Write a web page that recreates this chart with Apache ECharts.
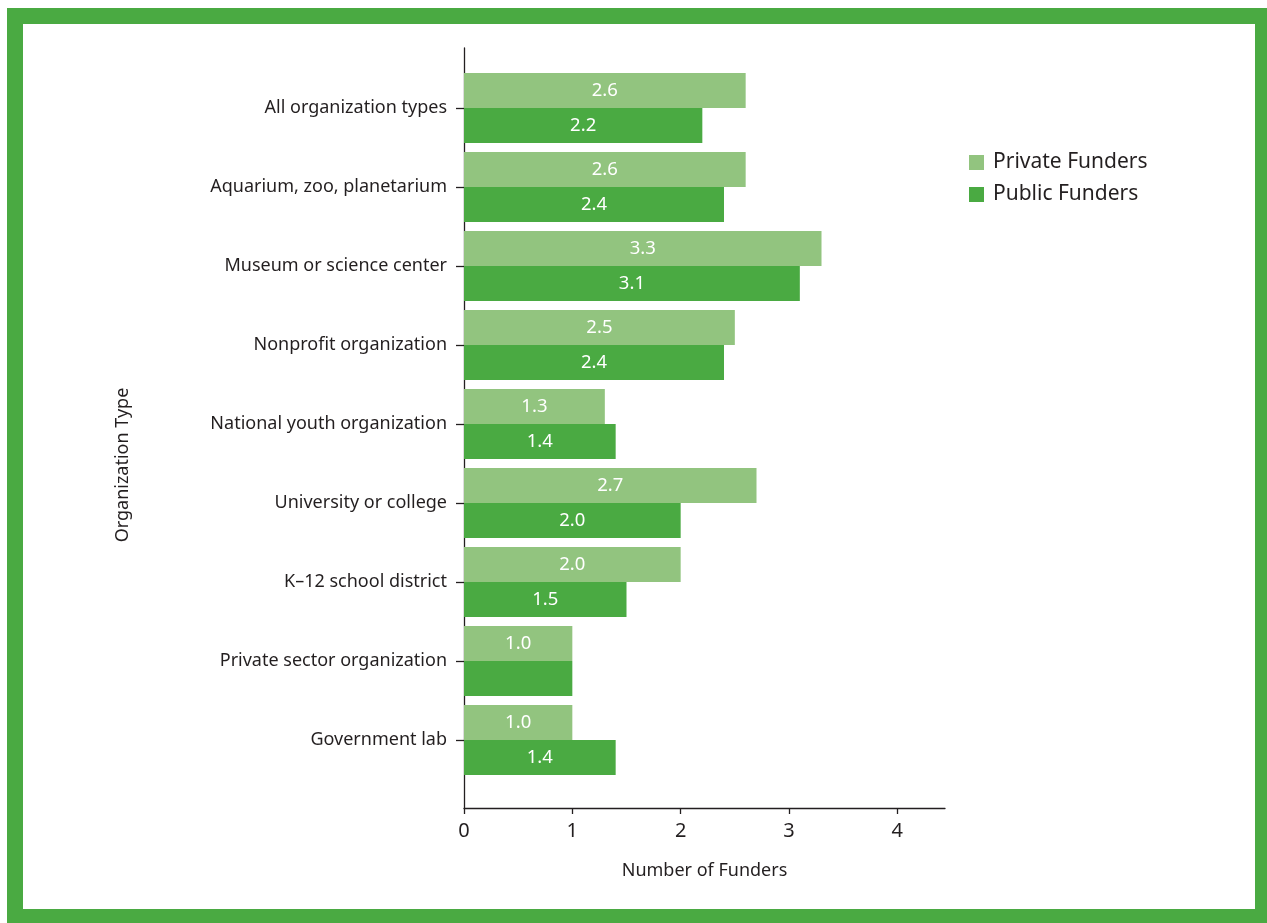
<!DOCTYPE html>
<html>
<head>
<meta charset="utf-8">
<script src="https://cdn.jsdelivr.net/npm/echarts@6/dist/echarts.min.js"></script>
<style>
  html, body { margin: 0; padding: 0; background: #ffffff; }
  #frame { position: absolute; left: 7px; top: 8px; width: 1260px; height: 915px; background: #4aaa42; }
  #inner { position: absolute; left: 23px; top: 24px; width: 1232px; height: 885px; background: #ffffff; }
  #chart { position: absolute; left: 0; top: 0; width: 1267px; height: 923px; }
</style>
</head>
<body>
<div id="frame"></div>
<div id="inner"></div>
<div id="chart"></div>
<script>
const categories = [
  'All organization types',
  'Aquarium, zoo, planetarium',
  'Museum or science center',
  'Nonprofit organization',
  'National youth organization',
  'University or college',
  'K\u201312 school district',
  'Private sector organization',
  'Government lab'
];
const privateFunders = [2.6, 2.6, 3.3, 2.5, 1.3, 2.7, 2.0, 1.0, 1.0];
const publicFunders  = [2.2, 2.4, 3.1, 2.4, 1.4, 2.0, 1.5, 1.0, 1.4];
const publicUnlabelled = ['Private sector organization'];
const xTickValues = [0, 1, 2, 3, 4];
const seriesNames = ['Private Funders', 'Public Funders'];

const FONT = 'Noto Sans';
const TEXT = '#231f20';
const LIGHT = '#92c47f';
const DARK = '#4aaa42';
const X_MAX = 4.44;

const chart = echarts.init(document.getElementById('chart'), null, { renderer: 'canvas' });

const labelStyle = {
  show: true, position: 'inside', color: '#ffffff', fontFamily: FONT, fontSize: 18.5,
  formatter: p => p.value.toFixed(1)
};

chart.setOption({
  backgroundColor: 'transparent',
  animation: false,
  textStyle: { fontFamily: FONT, color: TEXT },
  legend: {
    orient: 'vertical', left: 964, top: 147,
    itemWidth: 15, itemHeight: 15, itemGap: 11,
    icon: 'rect',
    textStyle: { fontFamily: FONT, fontSize: 21, color: TEXT, padding: [0, 0, 0, 4] },
    data: seriesNames
  },
  grid: [
    { left: 464, top: 68.5, width: 481, height: 711 },
    { left: 464, top: 48, width: 481, height: 760 }
  ],
  xAxis: [
    { gridIndex: 0, type: 'value', min: 0, max: X_MAX, show: false },
    {
      gridIndex: 1, type: 'value', min: 0, max: X_MAX, interval: 1,
      name: 'Number of Funders', nameLocation: 'middle', nameGap: 54,
      nameTextStyle: { fontFamily: FONT, fontSize: 18, color: TEXT },
      axisLine: { show: true, lineStyle: { color: '#231f20', width: 1.3 } },
      axisTick: { show: true, length: 6, lineStyle: { color: '#231f20', width: 1.3 },
                  customValues: xTickValues },
      axisLabel: { fontFamily: FONT, fontSize: 20, color: TEXT, margin: 13,
                   customValues: xTickValues },
      splitLine: { show: false }
    }
  ],
  yAxis: [
    {
      gridIndex: 0, type: 'category', data: categories, inverse: true,
      axisLine: { show: false },
      axisTick: { show: true, alignWithLabel: true, length: 8, lineStyle: { color: '#231f20', width: 1.3 } },
      axisLabel: { fontFamily: FONT, fontSize: 18, color: TEXT, margin: 17 }
    },
    {
      gridIndex: 1, type: 'value', min: 0, max: 1,
      name: 'Organization Type', nameLocation: 'middle', nameGap: 332, nameRotate: 90,
      nameTextStyle: { fontFamily: FONT, fontSize: 18, color: TEXT, padding: [0, 74, 0, 0] },
      axisLine: { show: true, lineStyle: { color: '#231f20', width: 1.3 } },
      axisTick: { show: false }, axisLabel: { show: false }, splitLine: { show: false }
    }
  ],
  series: [
    {
      name: seriesNames[0], type: 'bar', xAxisIndex: 0, yAxisIndex: 0,
      barWidth: 35, barGap: '0%',
      itemStyle: { color: LIGHT },
      label: labelStyle,
      data: privateFunders
    },
    {
      name: seriesNames[1], type: 'bar', xAxisIndex: 0, yAxisIndex: 0,
      barWidth: 35, barGap: '0%',
      itemStyle: { color: DARK },
      label: labelStyle,
      data: publicFunders.map((v, i) => publicUnlabelled.includes(categories[i])
        ? { value: v, label: { show: false } } : v)
    }
  ]
});
</script>
</body>
</html>
